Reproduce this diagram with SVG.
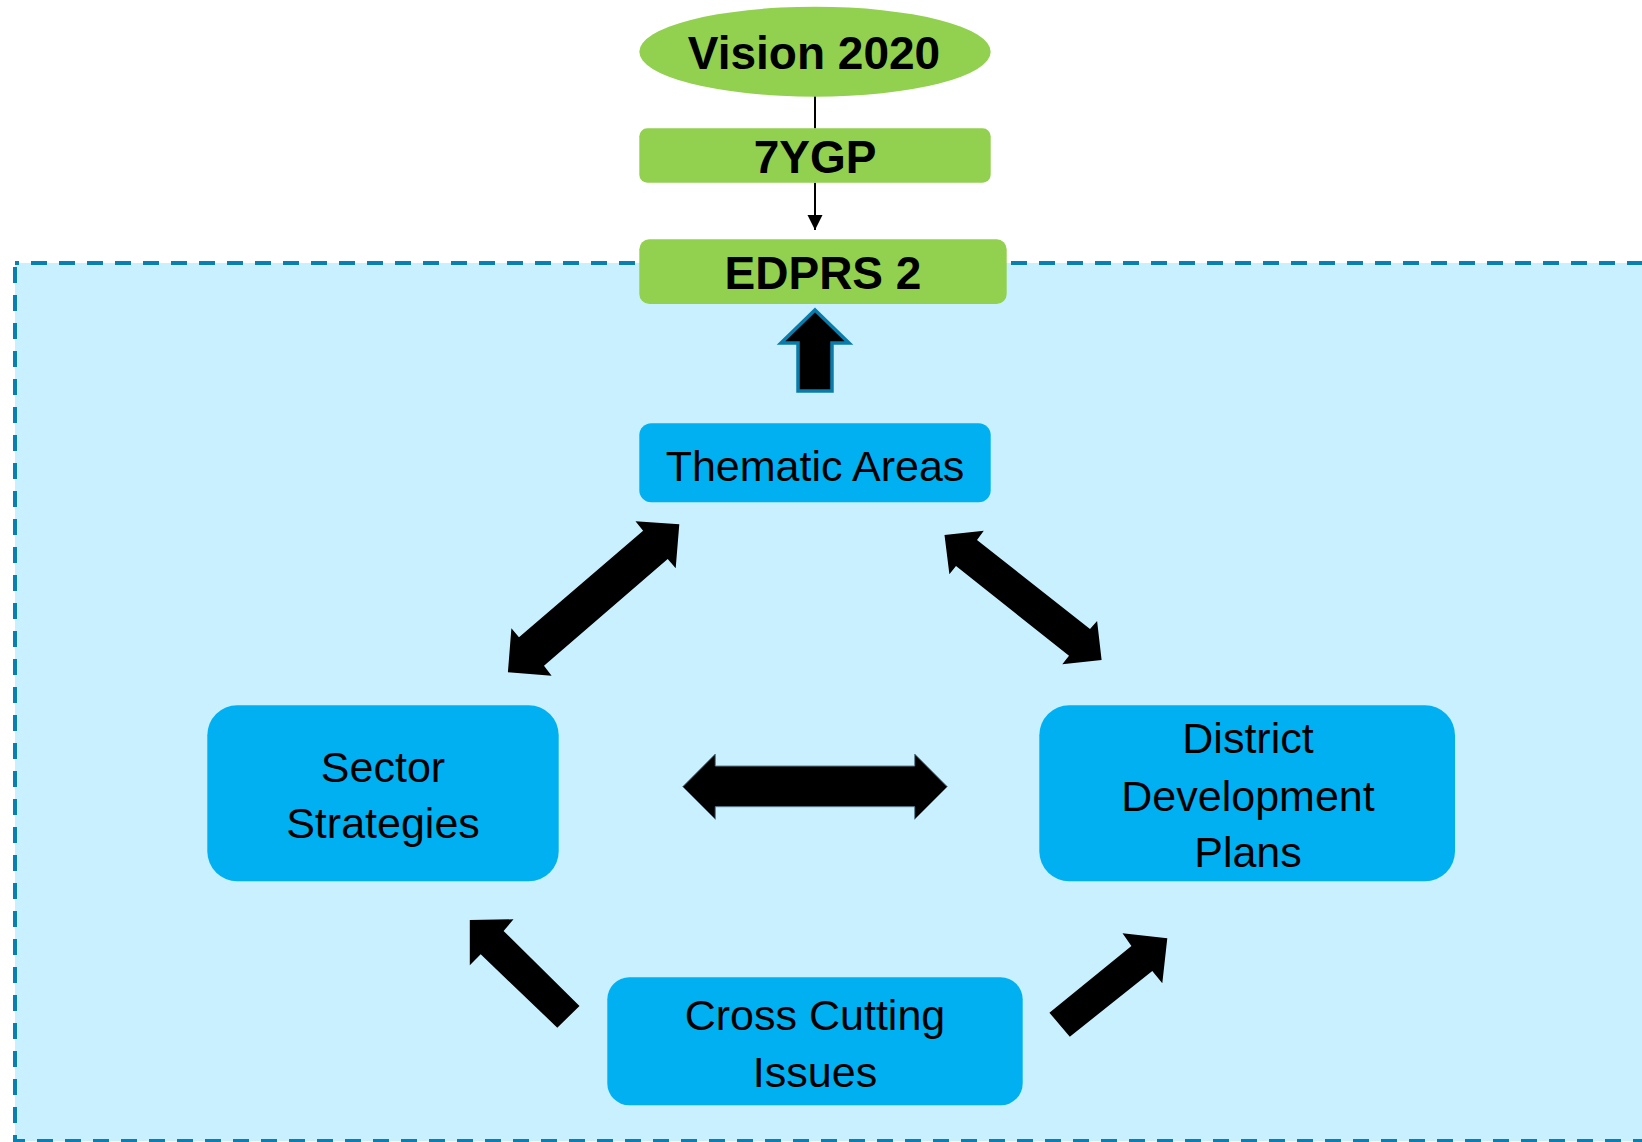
<svg xmlns="http://www.w3.org/2000/svg" width="1642" height="1142" viewBox="0 0 1642 1142">
<style>
.green{fill:#92D050}
.blue{fill:#00B0F0}
.hd{font-family:"Liberation Sans",Arial,sans-serif;font-weight:bold;font-size:46px;fill:#000;text-anchor:middle}
.lb{font-family:"Liberation Sans",Arial,sans-serif;font-size:43px;fill:#000;text-anchor:middle}
.blk{fill:#000}
</style>
<defs>
<marker id="ah" markerWidth="16" markerHeight="16" refX="15" refY="8" orient="auto" markerUnits="userSpaceOnUse" viewBox="0 0 16 16">
<path d="M0,0.5 L15,8 L0,15.5 Z" fill="#000"/>
</marker>
</defs>
<rect x="0" y="0" width="1642" height="1142" fill="#FFFFFF"/>
<rect id="region" x="15" y="263" width="1660" height="878" fill="#C9F0FF" stroke="#0A80B2" stroke-width="4" stroke-dasharray="16 12" stroke-dashoffset="12"/>

<g id="connectors">
<line x1="815" y1="96" x2="815" y2="128.5" stroke="#000" stroke-width="2"/>
<line x1="815" y1="182.7" x2="815" y2="230" stroke="#000" stroke-width="2" marker-end="url(#ah)"/>
<polygon points="815,310 849,343 832,343 832,391 798,391 798,343 781,343" fill="#000" stroke="#0A7CAB" stroke-width="3.5" stroke-linejoin="miter"/>
<polygon class="blk" points="679.3,524.3 675.7,568.3 667.7,559 544,665.7 551.6,675.7 507.9,672.3 511.4,628.3 519,637.3 643.1,530.7 635.5,521.3"/>
<polygon class="blk" points="944.5,535 983.8,530.7 977,540 1090,629 1097.1,621 1101.6,660 1062.3,664.3 1069,655.7 956,566 949.4,574.3"/>
<polygon class="blk" points="682.7,786.7 715.3,754 715.3,766 914.7,766 914.7,754 947.3,786.7 914.7,819.3 914.7,806.7 715.3,806.7 715.3,819.3" stroke="#5E7E8E" stroke-width="1"/>
<polygon class="blk" points="469.8,920 513.5,919.3 503.6,931 579.5,1006 557.3,1027.7 480.7,954.3 469.8,965.3"/>
<polygon class="blk" points="1167.3,938.3 1162.3,983.3 1152.3,971 1069.8,1036.7 1049.4,1012.7 1131.4,946 1122.5,933.3"/>
</g>

<g id="vision">
<ellipse class="green" cx="815" cy="51.7" rx="175.7" ry="45"/>
<text class="hd" x="814" y="69">Vision 2020</text>
</g>
<g id="ygp">
<rect class="green" x="639.3" y="128.3" width="351.4" height="54.4" rx="8"/>
<text class="hd" x="815" y="173.3">7YGP</text>
</g>
<g id="edprs">
<rect class="green" x="639.3" y="239.3" width="367.4" height="64.7" rx="10"/>
<text class="hd" x="823" y="288.7">EDPRS 2</text>
</g>
<g id="thematic">
<rect class="blue" x="639.3" y="423.3" width="351.4" height="79" rx="12"/>
<text class="lb" x="815" y="480.7">Thematic Areas</text>
</g>
<g id="sector">
<rect class="blue" x="207.3" y="705.3" width="351.4" height="176" rx="30"/>
<text class="lb" x="383" y="781.7">Sector</text>
<text class="lb" x="383" y="838.3">Strategies</text>
</g>
<g id="district">
<rect class="blue" x="1039.3" y="705.3" width="415.7" height="176" rx="30"/>
<text class="lb" x="1248" y="753.3">District</text>
<text class="lb" x="1248" y="810.7">Development</text>
<text class="lb" x="1248" y="866.7">Plans</text>
</g>
<g id="crosscutting">
<rect class="blue" x="607.3" y="977.3" width="415.4" height="128" rx="22"/>
<text class="lb" x="815" y="1030">Cross Cutting</text>
<text class="lb" x="815" y="1086.7">Issues</text>
</g>
</svg>
